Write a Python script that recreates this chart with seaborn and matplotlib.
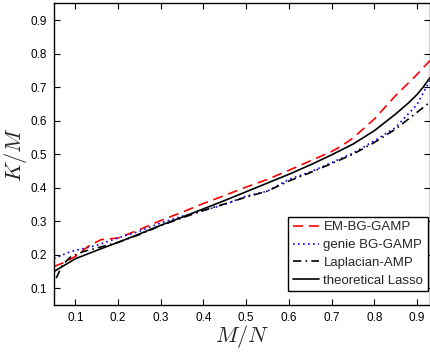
import matplotlib
matplotlib.use("Agg")
import matplotlib.pyplot as plt
import seaborn as sns

# Sampling ratio M/N and recovered sparsity ratio K/M for each curve
mn_em = [0.05, 0.07, 0.10, 0.13, 0.16, 0.20, 0.25, 0.30, 0.35, 0.40, 0.45, 0.50,
         0.55, 0.60, 0.65, 0.70, 0.72, 0.75, 0.80, 0.85, 0.90, 0.93]
k_em = [0.165, 0.175, 0.195, 0.225, 0.245, 0.250, 0.275, 0.302, 0.327, 0.353, 0.377, 0.402,
        0.425, 0.452, 0.480, 0.508, 0.522, 0.548, 0.605, 0.675, 0.738, 0.779]

mn_genie = [0.05, 0.08, 0.10, 0.15, 0.20, 0.25, 0.30, 0.35, 0.40, 0.45, 0.50,
            0.55, 0.60, 0.65, 0.70, 0.75, 0.80, 0.85, 0.90, 0.93]
k_genie = [0.188, 0.205, 0.213, 0.228, 0.250, 0.270, 0.295, 0.315, 0.332, 0.350, 0.375,
           0.390, 0.425, 0.447, 0.475, 0.503, 0.540, 0.580, 0.648, 0.720]

mn_lap = [0.055, 0.07, 0.09, 0.12, 0.15, 0.20, 0.25, 0.30, 0.35, 0.40, 0.45, 0.50,
          0.55, 0.60, 0.65, 0.70, 0.75, 0.80, 0.85, 0.90, 0.93]
k_lap = [0.130, 0.170, 0.195, 0.210, 0.220, 0.237, 0.260, 0.287, 0.310, 0.332, 0.352, 0.372,
         0.390, 0.420, 0.445, 0.472, 0.500, 0.535, 0.575, 0.625, 0.655]

mn_lasso = [0.05, 0.10, 0.15, 0.20, 0.25, 0.30, 0.35, 0.40, 0.45, 0.50, 0.55, 0.60,
            0.65, 0.70, 0.75, 0.80, 0.85, 0.88, 0.90, 0.915, 0.93]
k_lasso = [0.150, 0.188, 0.213, 0.237, 0.262, 0.288, 0.312, 0.337, 0.362, 0.388, 0.414, 0.440,
           0.468, 0.498, 0.530, 0.570, 0.620, 0.653, 0.678, 0.701, 0.728]

x_ticks = [0.1, 0.2, 0.3, 0.4, 0.5, 0.6, 0.7, 0.8, 0.9]
y_ticks = [0.1, 0.2, 0.3, 0.4, 0.5, 0.6, 0.7, 0.8, 0.9]

sns.set_style("ticks")
plt.rcParams["font.family"] = ["Liberation Sans", "DejaVu Sans"]
plt.rcParams["mathtext.fontset"] = "cm"

fig = plt.figure(figsize=(4.3, 3.54), dpi=100)
ax = fig.add_axes([0.1256, 0.1384, 0.874, 0.852])

sns.lineplot(x=mn_em, y=k_em, ax=ax, color="#ff0000", lw=1.2,
             label="EM-BG-GAMP", linestyle=(0, (6, 3.5)))
sns.lineplot(x=mn_genie, y=k_genie, ax=ax, color="#0000ff", lw=1.2,
             label="genie BG-GAMP", linestyle=(0, (1, 2)))
sns.lineplot(x=mn_lap, y=k_lap, ax=ax, color="black", lw=1.2,
             label="Laplacian-AMP", linestyle=(0, (5, 2.5, 1, 2.5)))
sns.lineplot(x=mn_lasso, y=k_lasso, ax=ax, color="black", lw=1.2,
             label="theoretical Lasso", linestyle="-")

ax.set_xlim(0.05, 0.93)
ax.set_ylim(0.05, 0.95)
ax.set_xticks(x_ticks)
ax.set_yticks(y_ticks)
ax.set_xticklabels([f"{v:.1f}" for v in x_ticks])
ax.set_yticklabels([f"{v:.1f}" for v in y_ticks])
ax.tick_params(direction="in", length=4, width=0.8, labelsize=8.5,
               top=True, right=True, colors="black", pad=5)
for s in ax.spines.values():
    s.set_linewidth(1.0)
    s.set_color("black")

ax.set_xlabel("$M/N$", fontsize=16, labelpad=-1)
ax.set_ylabel("$K/M$", fontsize=16, labelpad=1)

leg = ax.legend(loc="lower right", bbox_to_anchor=(0.995, 0.045), fontsize=9.5,
                frameon=True, fancybox=False, edgecolor="black", framealpha=1,
                handlelength=2.0, handletextpad=0.3, borderpad=0.35,
                labelspacing=0.42, borderaxespad=0)
leg.get_frame().set_linewidth(1.0)

fig.savefig("out.png", dpi=100)
